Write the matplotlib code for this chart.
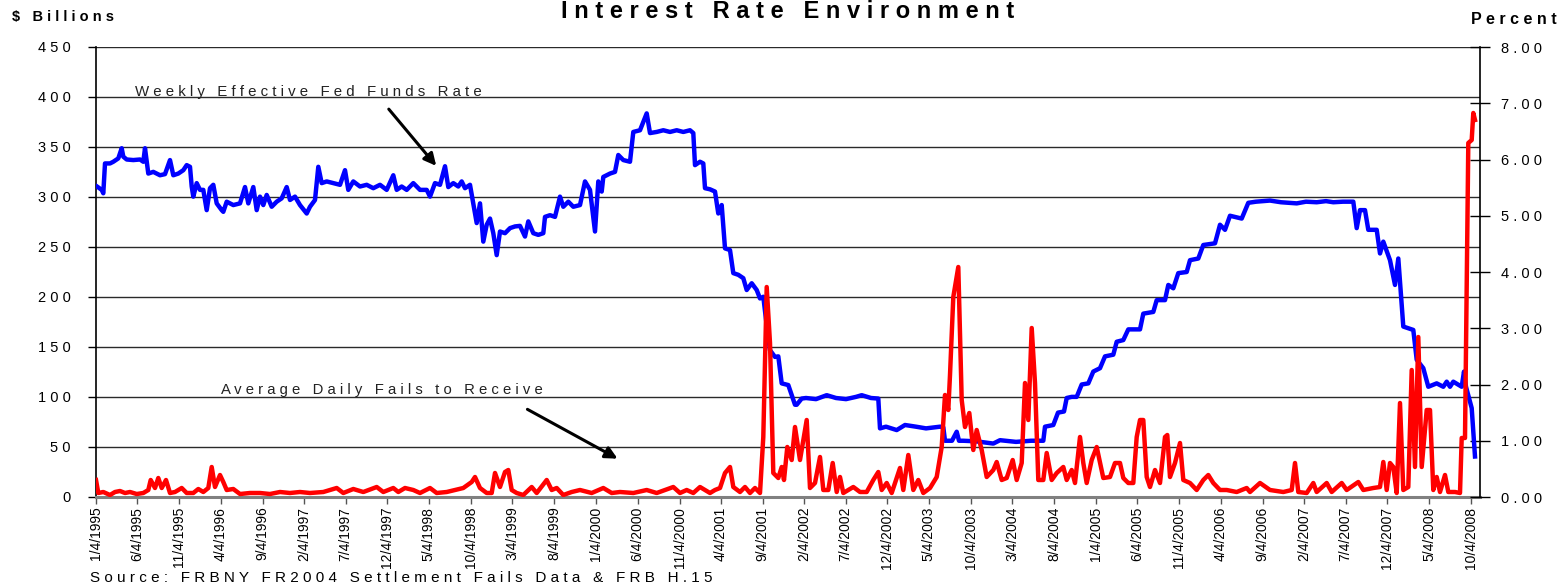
import datetime
import numpy as np
import matplotlib
matplotlib.use("Agg")
import matplotlib.pyplot as plt

plt.rcParams['font.family'] = ['Liberation Sans', 'DejaVu Sans']

# weekly effective fed funds rate, percent (x in decimal years)
fed_t = [1995.01, 1995.057, 1995.073, 1995.09, 1995.14, 1995.173, 1995.223, 1995.257, 1995.273, 1995.307,
         1995.373, 1995.44, 1995.473, 1995.49, 1995.523, 1995.573, 1995.64, 1995.69, 1995.74, 1995.773,
         1995.823, 1995.873, 1995.907, 1995.94, 1995.957, 1995.973, 1996.007, 1996.04, 1996.073, 1996.107,
         1996.14, 1996.173, 1996.207, 1996.257, 1996.273, 1996.307, 1996.373, 1996.44, 1996.49, 1996.523,
         1996.573, 1996.607, 1996.64, 1996.673, 1996.707, 1996.757, 1996.807, 1996.857, 1996.907, 1996.94,
         1996.99, 1997.04, 1997.107, 1997.14, 1997.19, 1997.223, 1997.257, 1997.307, 1997.373, 1997.44,
         1997.49, 1997.523, 1997.573, 1997.64, 1997.707, 1997.773, 1997.84, 1997.907, 1997.973, 1998.007,
         1998.057, 1998.107, 1998.173, 1998.24, 1998.307, 1998.34, 1998.39, 1998.44, 1998.49, 1998.523,
         1998.573, 1998.623, 1998.657, 1998.69, 1998.74, 1998.773, 1998.807, 1998.84, 1998.873, 1998.907,
         1998.94, 1998.973, 1999.007, 1999.04, 1999.09, 1999.14, 1999.19, 1999.24, 1999.29, 1999.323,
         1999.373, 1999.423, 1999.473, 1999.49, 1999.54, 1999.59, 1999.64, 1999.673, 1999.723, 1999.773,
         1999.84, 1999.89, 1999.94, 1999.99, 2000.023, 2000.057, 2000.073, 2000.14, 2000.19, 2000.223,
         2000.273, 2000.34, 2000.373, 2000.44, 2000.507, 2000.54, 2000.607, 2000.673, 2000.74, 2000.807,
         2000.873, 2000.94, 2000.973, 2000.99, 2001.04, 2001.073, 2001.09, 2001.14, 2001.19, 2001.223,
         2001.257, 2001.29, 2001.34, 2001.373, 2001.423, 2001.473, 2001.507, 2001.557, 2001.607, 2001.64,
         2001.673, 2001.707, 2001.74, 2001.79, 2001.823, 2001.857, 2001.923, 2001.94, 2001.99, 2002.007,
         2002.057, 2002.10, 2002.20, 2002.307, 2002.40, 2002.50, 2002.60, 2002.657, 2002.75, 2002.823,
         2002.84, 2002.90, 2003.007, 2003.09, 2003.20, 2003.30, 2003.44, 2003.473, 2003.49, 2003.56,
         2003.607, 2003.63, 2003.673, 2003.80, 2003.973, 2004.04, 2004.20, 2004.35, 2004.44, 2004.473,
         2004.49, 2004.573, 2004.62, 2004.68, 2004.707, 2004.757, 2004.807, 2004.857, 2004.923, 2004.973,
         2005.04, 2005.09, 2005.173, 2005.207, 2005.273, 2005.323, 2005.44, 2005.473, 2005.573, 2005.607,
         2005.69, 2005.723, 2005.773, 2005.823, 2005.907, 2005.94, 2006.023, 2006.073, 2006.19, 2006.24,
         2006.29, 2006.34, 2006.457, 2006.523, 2006.60, 2006.74, 2006.85, 2007.007, 2007.10, 2007.207,
         2007.30, 2007.373, 2007.47, 2007.573, 2007.607, 2007.64, 2007.69, 2007.723, 2007.807, 2007.84,
         2007.873, 2007.94, 2007.99, 2008.023, 2008.073, 2008.173, 2008.207, 2008.273, 2008.323, 2008.407,
         2008.473, 2008.507, 2008.54, 2008.573, 2008.657, 2008.68, 2008.70, 2008.757, 2008.79]
fed_rate = [5.52, 5.46, 5.40, 5.93, 5.93, 5.96, 6.02, 6.20, 6.05, 6.00,
            5.99, 6.00, 5.96, 6.20, 5.75, 5.78, 5.72, 5.74, 5.99, 5.72,
            5.75, 5.81, 5.90, 5.87, 5.52, 5.34, 5.58, 5.46, 5.46, 5.10,
            5.49, 5.55, 5.22, 5.10, 5.07, 5.25, 5.19, 5.22, 5.51, 5.22,
            5.51, 5.10, 5.34, 5.19, 5.37, 5.16, 5.25, 5.31, 5.51, 5.28,
            5.34, 5.19, 5.04, 5.16, 5.28, 5.87, 5.58, 5.61, 5.58, 5.55,
            5.81, 5.46, 5.61, 5.52, 5.55, 5.49, 5.55, 5.46, 5.72, 5.46,
            5.52, 5.46, 5.58, 5.46, 5.46, 5.34, 5.58, 5.55, 5.88, 5.51,
            5.58, 5.52, 5.61, 5.49, 5.55, 5.22, 4.87, 5.22, 4.54, 4.84,
            4.95, 4.69, 4.30, 4.72, 4.69, 4.78, 4.81, 4.82, 4.63, 4.90,
            4.69, 4.66, 4.69, 4.98, 5.01, 4.98, 5.34, 5.16, 5.25, 5.16,
            5.19, 5.61, 5.46, 4.72, 5.61, 5.43, 5.69, 5.75, 5.78, 6.08,
            5.99, 5.96, 6.49, 6.52, 6.82, 6.47, 6.49, 6.52, 6.49, 6.52,
            6.49, 6.52, 6.47, 5.90, 5.96, 5.93, 5.49, 5.47, 5.43, 5.04,
            5.19, 4.42, 4.39, 3.98, 3.95, 3.89, 3.68, 3.80, 3.68, 3.53,
            3.56, 3.05, 2.61, 2.49, 2.50, 2.02, 1.99, 1.90, 1.64, 1.64,
            1.75, 1.76, 1.74, 1.81, 1.76, 1.74, 1.78, 1.81, 1.76, 1.75,
            1.22, 1.25, 1.19, 1.28, 1.25, 1.22, 1.25, 1.24, 1.00, 1.00,
            1.16, 1.00, 1.00, 0.99, 0.95, 1.01, 0.98, 1.00, 1.00, 1.00,
            1.25, 1.28, 1.50, 1.52, 1.76, 1.78, 1.78, 2.00, 2.02, 2.23,
            2.29, 2.50, 2.53, 2.76, 2.79, 2.98, 2.98, 3.26, 3.29, 3.50,
            3.50, 3.77, 3.71, 3.98, 4.00, 4.21, 4.24, 4.48, 4.51, 4.84,
            4.75, 5.00, 4.95, 5.23, 5.25, 5.27, 5.24, 5.22, 5.25, 5.24,
            5.26, 5.24, 5.25, 5.25, 4.78, 5.10, 5.10, 4.75, 4.75, 4.33,
            4.54, 4.21, 3.77, 4.24, 3.03, 2.97, 2.44, 2.29, 1.96, 2.02,
            1.96, 2.05, 1.96, 2.05, 1.96, 2.23, 1.96, 1.58, 0.72]

# average daily fails to receive, $ billions
fails_t = [1995.0, 1995.023, 1995.073, 1995.14, 1995.19, 1995.24, 1995.29, 1995.34, 1995.407, 1995.473,
           1995.523, 1995.547, 1995.59, 1995.623, 1995.657, 1995.70, 1995.74, 1995.79, 1995.857, 1995.907,
           1995.973, 1996.023, 1996.073, 1996.123, 1996.157, 1996.19, 1996.24, 1996.273, 1996.307, 1996.373,
           1996.44, 1996.54, 1996.64, 1996.74, 1996.84, 1996.94, 1997.04, 1997.14, 1997.273, 1997.407,
           1997.473, 1997.573, 1997.673, 1997.807, 1997.873, 1997.973, 1998.023, 1998.09, 1998.173, 1998.24,
           1998.34, 1998.407, 1998.507, 1998.673, 1998.757, 1998.79, 1998.84, 1998.907, 1998.957, 1998.99,
           1999.04, 1999.09, 1999.123, 1999.157, 1999.207, 1999.273, 1999.357, 1999.407, 1999.507, 1999.557,
           1999.607, 1999.673, 1999.757, 1999.84, 1999.957, 2000.073, 2000.157, 2000.24, 2000.373, 2000.507,
           2000.607, 2000.773, 2000.84, 2000.907, 2000.973, 2001.04, 2001.09, 2001.14, 2001.19, 2001.24,
           2001.29, 2001.34, 2001.373, 2001.44, 2001.49, 2001.54, 2001.59, 2001.64, 2001.673, 2001.707,
           2001.74, 2001.773, 2001.823, 2001.857, 2001.88, 2001.913, 2001.957, 2001.99, 2002.04, 2002.107,
           2002.14, 2002.19, 2002.24, 2002.273, 2002.323, 2002.367, 2002.407, 2002.44, 2002.473, 2002.573,
           2002.64, 2002.707, 2002.773, 2002.823, 2002.857, 2002.907, 2002.957, 2003.04, 2003.073, 2003.123,
           2003.173, 2003.223, 2003.273, 2003.34, 2003.407, 2003.457, 2003.49, 2003.523, 2003.54, 2003.573,
           2003.623, 2003.657, 2003.69, 2003.733, 2003.773, 2003.807, 2003.857, 2003.907, 2003.973, 2004.007,
           2004.057, 2004.107, 2004.167, 2004.207, 2004.257, 2004.29, 2004.323, 2004.357, 2004.39, 2004.423,
           2004.473, 2004.507, 2004.557, 2004.607, 2004.673, 2004.707, 2004.757, 2004.79, 2004.84, 2004.873,
           2004.907, 2004.957, 2005.007, 2005.073, 2005.14, 2005.19, 2005.24, 2005.273, 2005.323, 2005.373,
           2005.407, 2005.44, 2005.473, 2005.507, 2005.54, 2005.59, 2005.64, 2005.69, 2005.713, 2005.74,
           2005.79, 2005.84, 2005.873, 2005.94, 2006.007, 2006.073, 2006.123, 2006.173, 2006.24, 2006.307,
           2006.407, 2006.507, 2006.54, 2006.64, 2006.74, 2006.873, 2006.957, 2006.99, 2007.023, 2007.107,
           2007.173, 2007.207, 2007.307, 2007.357, 2007.457, 2007.507, 2007.623, 2007.673, 2007.773, 2007.84,
           2007.873, 2007.907, 2007.94, 2007.973, 2008.007, 2008.04, 2008.073, 2008.123, 2008.157, 2008.19,
           2008.223, 2008.257, 2008.307, 2008.34, 2008.373, 2008.407, 2008.44, 2008.49, 2008.523, 2008.59,
           2008.64, 2008.657, 2008.69, 2008.723, 2008.757, 2008.773, 2008.79]
fails = [17, 4, 5, 2, 5, 6, 4, 5, 3, 4,
         7, 17, 9, 19, 9, 17, 4, 5, 9, 4,
         4, 8, 5, 9, 30, 10, 22, 15, 7, 8,
         3, 4, 4, 3, 5, 4, 5, 4, 5, 9,
         4, 8, 5, 10, 5, 9, 5, 9, 7, 4,
         9, 4, 5, 9, 15, 20, 9, 4, 4, 24,
         10, 25, 27, 7, 4, 2, 10, 4, 17, 7,
         9, 2, 5, 7, 4, 9, 4, 5, 4, 7,
         4, 10, 4, 7, 4, 10, 7, 4, 7, 9,
         24, 30, 10, 5, 10, 4, 9, 4, 60, 210,
         154, 24, 19, 30, 17, 50, 37, 70, 37, 77,
         9, 14, 40, 7, 7, 34, 5, 20, 4, 10,
         5, 5, 17, 25, 7, 14, 4, 29, 7, 42,
         7, 17, 4, 9, 20, 50, 102, 87, 122, 200,
         230, 97, 70, 84, 47, 67, 47, 20, 27, 35,
         17, 19, 37, 17, 34, 114, 77, 169, 114, 17,
         17, 44, 17, 24, 30, 17, 27, 14, 60, 34,
         14, 37, 50, 19, 20, 34, 34, 19, 14, 14,
         60, 77, 77, 20, 10, 27, 14, 60, 62, 20,
         34, 54, 17, 14, 7, 17, 22, 14, 7, 7,
         5, 9, 5, 14, 7, 5, 7, 34, 5, 4,
         14, 5, 14, 5, 14, 7, 15, 7, 9, 10,
         35, 7, 34, 30, 4, 94, 7, 10, 127, 30,
         160, 30, 87, 87, 7, 20, 5, 22, 5, 5,
         4, 59, 59, 354, 357, 384, 377]

left_ticks = [0, 50, 100, 150, 200, 250, 300, 350, 400, 450]
right_ticks = [0, 1, 2, 3, 4, 5, 6, 7, 8]


def spaced(s):
    return ' '.join(s)


def dec_year(d):
    return d.year + (d.timetuple().tm_yday - 4) / 365.25


tick_dates = []
for k in range(34):
    m = 5 * k
    tick_dates.append(datetime.date(1995 + m // 12, m % 12 + 1, 4))
tick_pos = [dec_year(d) for d in tick_dates]
tick_lab = [f"{d.month}/{d.day}/{d.year}" for d in tick_dates]

fig = plt.figure(figsize=(15.62, 5.84), dpi=100)
ax = fig.add_axes([96 / 1562, 1 - 497 / 584, (1480 - 96) / 1562, 450 / 584])
axr = ax.twinx()
axf = ax.twinx()

ax.set_xlim(1995.0, 2008.84)
ax.set_ylim(0, 450)
ax.set_yticks(left_ticks)
ax.set_yticklabels([spaced(str(v)) for v in left_ticks], fontsize=10.5)
ax.yaxis.grid(True, color='#2a2a2a', lw=1.0)
ax.set_axisbelow(True)
ax.set_xticks(tick_pos)
ax.set_xticklabels(tick_lab, rotation=90, fontsize=10)
ax.tick_params(axis='y', direction='out', length=6, width=1, pad=12)
ax.tick_params(axis='x', direction='out', length=5, width=1, pad=2, color='#555555')
ax.spines['top'].set_visible(False)
ax.spines['right'].set_visible(False)
ax.spines['bottom'].set_color('#808080')
ax.spines['bottom'].set_linewidth(2.2)
ax.spines['left'].set_linewidth(1.2)

axr.plot(fed_t, fed_rate, color='#0000ff', lw=3.2, solid_joinstyle='round')
axr.set_ylim(0, 8)
axr.set_xlim(1995.0, 2008.84)
axr.set_yticks(right_ticks)
axr.set_yticklabels([spaced(f"{v:.2f}") for v in right_ticks], fontsize=10.5)
axr.tick_params(axis='y', direction='inout', length=14, width=1, pad=8)
for s in ['top', 'left', 'bottom']:
    axr.spines[s].set_visible(False)
axr.spines['right'].set_linewidth(1.2)

axf.plot(fails_t, fails, color='#ff0000', lw=3.2, solid_joinstyle='round')
axf.set_ylim(0, 450)
axf.set_xlim(1995.0, 2008.84)
axf.set_axis_off()

ax.annotate('', xy=(1998.42, 329), xytext=(1997.91, 390),
            arrowprops=dict(arrowstyle='-|>', color='black', lw=2.2, mutation_scale=18))
ax.annotate('', xy=(2000.24, 37), xytext=(1999.29, 89),
            arrowprops=dict(arrowstyle='-|>', color='black', lw=2.2, mutation_scale=18))
ax.text(1995.39, 405, spaced("Weekly Effective Fed Funds Rate"), fontsize=10.8,
        ha='left', va='center', color='#222222')
ax.text(1996.25, 107, spaced("Average Daily Fails to Receive"), fontsize=10.7,
        ha='left', va='center', color='#222222')

fig.text(788 / 1562, 1 - 18 / 584, spaced("Interest Rate Environment"), fontsize=17,
         fontweight='bold', ha='center', va='baseline')
fig.text(12 / 1562, 1 - 21 / 584, spaced("$ Billions"), fontsize=10.5, fontweight='bold',
         ha='left', va='baseline')
fig.text(1557 / 1562, 1 - 24 / 584, spaced("Percent"), fontsize=11.5, fontweight='bold',
         ha='right', va='baseline')
fig.text(90 / 1562, 1 - 582 / 584, spaced("Source: FRBNY FR2004 Settlement Fails Data & FRB H.15"),
         fontsize=11, ha='left', va='baseline')

fig.savefig('out.png', dpi=100)
